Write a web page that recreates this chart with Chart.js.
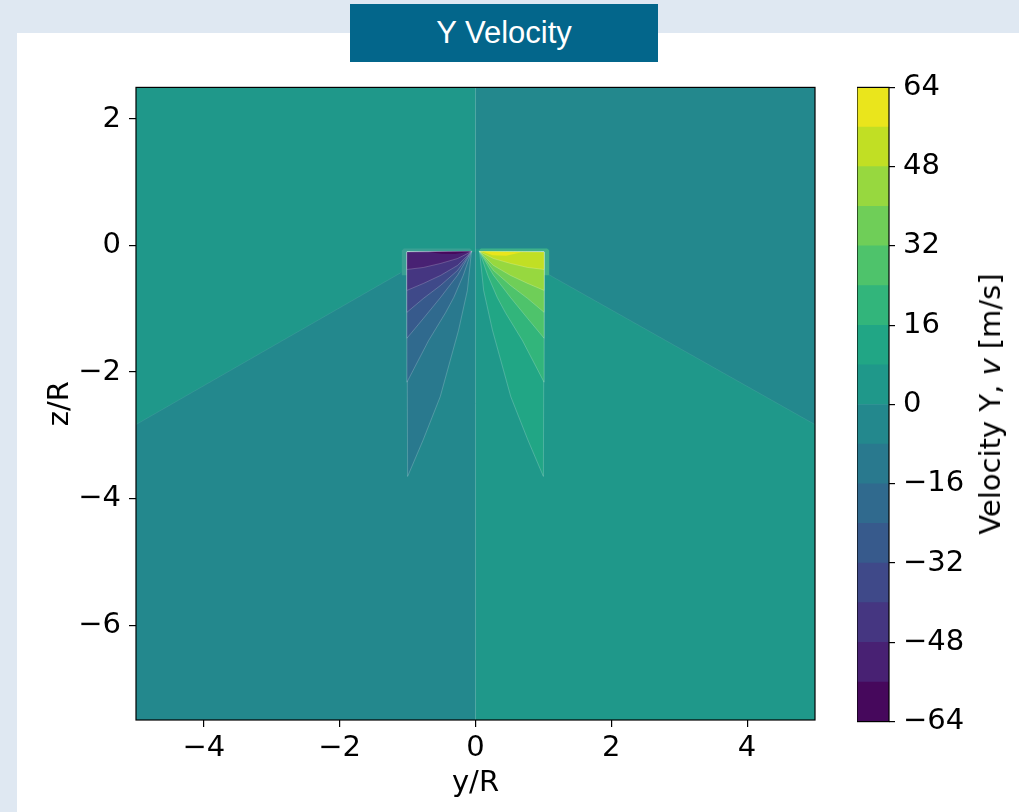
<!DOCTYPE html>
<html>
<head>
<meta charset="utf-8">
<script src="https://cdn.jsdelivr.net/npm/chart.js@4.4.1/dist/chart.umd.min.js"></script>
<style>
  body { margin: 0; width: 1019px; height: 812px; background: #dfe8f2; position: relative; overflow: hidden; font-family: 'DejaVu Sans', sans-serif; }
  #panel { position: absolute; left: 17px; top: 33px; right: 0; bottom: 0; background: #fff; }
  #title { position: absolute; left: 350px; top: 4px; width: 308px; height: 58px; background: #03668b; color: #fff;
           font: 31px 'Liberation Sans', Arial, sans-serif; text-align: center; line-height: 58px; }
  #main { position: absolute; left: 30px; top: 62px; }
  #cbar { position: absolute; left: 857px; top: 62px; }
  #cblabel { position: absolute; left: 990px; top: 404px; transform: translate(-50%, -50%) rotate(-90deg);
             white-space: nowrap; font: 29px 'DejaVu Sans', sans-serif; color: #000; }
</style>
</head>
<body>
<div id="panel"></div>
<div id="title">Y Velocity</div>
<canvas id="main" width="795" height="744"></canvas>
<canvas id="cbar" width="142" height="685"></canvas>
<div id="cblabel">Velocity Y, <i>v</i> [m/s]</div>
<script>
// axis ticks
const xTicks = [-4, -2, 0, 2, 4];
const yTicks = [-6, -4, -2, 0, 2];
const cbTicks = [-64, -48, -32, -16, 0, 16, 32, 48, 64];

// contour levels (m/s) and their viridis fills
const levels = [-64, -56, -48, -40, -32, -24, -16, -8, 0, 8, 16, 24, 32, 40, 48, 56, 64];
const levelColors = ['#46085c', '#482173', '#453681', '#3f4989', '#375a8c', '#306a8e', '#29798e', '#23888d',
                     '#1f988a', '#21a685', '#32b57b', '#4ec36b', '#6fce58', '#97d83f', '#c1df24', '#eae51c'];

// contour regions, [y/R, z/R] vertices
const fieldAll = [[-5, 2.5], [5, 2.5], [5, -7.5], [-5, -7.5]];
const upperRight = [[0, 2.5], [5, 2.5], [5, -2.83], [1.075, -0.457], [1.08, -0.05], [0, -0.05]];
const lowerLeft = [[-5, -2.83], [-1.1, -0.43], [-0.06, -0.1], [0, -0.1], [0, -7.5], [-5, -7.5]];
const haloLeft = [[-1.085, -0.47], [-1.085, -0.08], [-1.055, -0.045], [-0.08, -0.045], [-0.04, -0.085], [-0.06, -0.12], [-1.0, -0.47]];
const haloRight = [[1.085, -0.47], [1.085, -0.08], [1.055, -0.045], [0.08, -0.045], [0.04, -0.085], [0.06, -0.12], [1.0, -0.47]];

const left6 = [[-1.01, -0.1], [-0.06, -0.095], [-0.12, -0.71], [-0.25, -1.34], [-0.52, -2.39], [-0.77, -3.07], [-1.0, -3.65], [-1.01, -0.1]];
const left5 = [[-1.01, -0.1], [-0.06, -0.095], [-0.18, -0.47], [-0.32, -0.82], [-0.44, -1.06], [-0.69, -1.5], [-1.01, -2.16], [-1.01, -0.1]];
const left4 = [[-1.01, -0.1], [-0.06, -0.095], [-0.265, -0.47], [-0.515, -0.82], [-0.766, -1.15], [-1.01, -1.465], [-1.01, -0.1]];
const left3 = [[-1.01, -0.1], [-0.06, -0.095], [-0.265, -0.394], [-0.515, -0.63], [-0.766, -0.835], [-1.01, -1.055], [-1.01, -0.1]];
const left2 = [[-1.01, -0.1], [-0.06, -0.095], [-0.265, -0.315], [-0.515, -0.472], [-0.766, -0.598], [-1.01, -0.709], [-1.01, -0.1]];
const left1 = [[-1.01, -0.1], [-0.06, -0.095], [-0.265, -0.205], [-0.515, -0.283], [-0.766, -0.346], [-1.01, -0.378], [-1.01, -0.1]];
const left0 = [[-0.69, -0.1], [-0.06, -0.095], [-0.3, -0.135], [-0.5, -0.13], [-0.69, -0.1]];

const right9 = [[1.01, -0.1], [0.06, -0.095], [0.12, -0.71], [0.25, -1.34], [0.52, -2.39], [0.77, -3.07], [1.0, -3.65], [1.01, -0.1]];
const right10 = [[1.01, -0.1], [0.06, -0.095], [0.18, -0.47], [0.32, -0.82], [0.44, -1.06], [0.69, -1.5], [1.01, -2.16], [1.01, -0.1]];
const right11 = [[1.01, -0.1], [0.06, -0.095], [0.265, -0.47], [0.515, -0.82], [0.766, -1.15], [1.01, -1.465], [1.01, -0.1]];
const right12 = [[1.01, -0.1], [0.06, -0.095], [0.265, -0.394], [0.515, -0.63], [0.766, -0.835], [1.01, -1.055], [1.01, -0.1]];
const right13 = [[1.01, -0.1], [0.06, -0.095], [0.265, -0.315], [0.515, -0.472], [0.766, -0.598], [1.01, -0.709], [1.01, -0.1]];
const right14 = [[1.01, -0.1], [0.06, -0.095], [0.265, -0.205], [0.515, -0.283], [0.766, -0.346], [1.01, -0.378], [1.01, -0.1]];
const right15 = [[0.1, -0.095], [0.4, -0.1], [0.68, -0.105], [0.45, -0.16], [0.25, -0.155], [0.1, -0.095]];

// faint seams between the far-field regions
const seamCentre = [[0, 2.5], [0, -7.5]];
const seamLeft = [[-5, -2.83], [-1.1, -0.43]];
const seamRight = [[1.075, -0.457], [5, -2.83]];

const font = { family: "'DejaVu Sans', sans-serif", size: 29 };
const minus = v => String(v).replace('-', '\u2212');

function region(pts, color, seam) {
    return {
        data: pts.map(p => ({ x: p[0], y: p[1] })),
        showLine: true,
        fill: 'shape',
        backgroundColor: color,
        borderColor: seam ? 'rgba(255,255,255,0.2)' : 'transparent',
        borderWidth: seam ? 1 : 0,
        pointRadius: 0,
        tension: 0,
    };
}

function seam(pts) {
    return {
        data: pts.map(p => ({ x: p[0], y: p[1] })),
        showLine: true,
        fill: false,
        borderColor: 'rgba(255,255,255,0.08)',
        borderWidth: 1,
        pointRadius: 0,
    };
}

// bottom first, top last
const layers = [
    region(fieldAll, levelColors[8]),
    region(upperRight, levelColors[7]),
    region(lowerLeft, levelColors[7]),
    seam(seamCentre),
    seam(seamLeft),
    seam(seamRight),
    region(haloLeft, '#3a9f93'),
    region(haloRight, '#3fb08a'),
    region(left6, levelColors[6], true),
    region(left5, levelColors[5], true),
    region(left4, levelColors[4], true),
    region(left3, levelColors[3], true),
    region(left2, levelColors[2], true),
    region(left1, levelColors[1], true),
    region(left0, levelColors[0]),
    region(right9, levelColors[9], true),
    region(right10, levelColors[10], true),
    region(right11, levelColors[11], true),
    region(right12, levelColors[12], true),
    region(right13, levelColors[13], true),
    region(right14, levelColors[14], true),
    region(right15, levelColors[15]),
];
layers.forEach((d, i) => { d.order = layers.length - i; });

const frame = {
    id: 'frame',
    afterDraw(chart) {
        const { ctx, chartArea: a } = chart;
        ctx.save();
        ctx.strokeStyle = '#000';
        ctx.lineWidth = 1.2;
        ctx.strokeRect(a.left, a.top, a.right - a.left, a.bottom - a.top);
        ctx.restore();
    },
};

const tickGrid = len => ({ drawOnChartArea: false, drawTicks: true, tickLength: len, color: '#000', lineWidth: 1.2 });

new Chart(document.getElementById('main'), {
    type: 'scatter',
    data: { datasets: layers },
    options: {
        responsive: false,
        animation: false,
        events: [],
        layout: { padding: { top: 10, right: 10, bottom: 0, left: 0 } },
        plugins: { legend: { display: false }, tooltip: { enabled: false } },
        scales: {
            x: {
                type: 'linear', min: -5, max: 5,
                afterBuildTicks: axis => { axis.ticks = xTicks.map(v => ({ value: v })); },
                afterFit: axis => { axis.height = 86; },
                ticks: { color: '#000', font, padding: 4, callback: minus },
                grid: tickGrid(7),
                border: { display: false },
                title: { display: true, text: 'y/R', color: '#000', font, padding: 5 },
            },
            y: {
                type: 'linear', min: -7.5, max: 2.5,
                afterBuildTicks: axis => { axis.ticks = yTicks.map(v => ({ value: v })); },
                afterFit: axis => { axis.width = 106; },
                ticks: { color: '#000', font, padding: 8, callback: minus },
                grid: tickGrid(7),
                border: { display: false },
                title: { display: true, text: 'z/R', color: '#000', font, padding: 13 },
            },
        },
    },
    plugins: [frame],
});

new Chart(document.getElementById('cbar'), {
    type: 'bar',
    data: {
        labels: [''],
        datasets: levelColors.map((c, i) => ({
            data: [[levels[i], levels[i + 1]]],
            backgroundColor: c,
            borderWidth: 0,
            base: levels[0],
            grouped: false,
            barPercentage: 1,
            categoryPercentage: 1,
        })),
    },
    options: {
        responsive: false,
        animation: false,
        events: [],
        layout: { padding: { top: 10, bottom: 10, left: 0, right: 0 } },
        plugins: { legend: { display: false }, tooltip: { enabled: false } },
        scales: {
            x: { display: false },
            y: {
                position: 'right', min: -64, max: 64,
                afterBuildTicks: axis => { axis.ticks = cbTicks.map(v => ({ value: v })); },
                afterFit: axis => { axis.width = 110; },
                ticks: { color: '#000', font, padding: 8, callback: minus },
                grid: tickGrid(6),
                border: { display: false },
            },
        },
    },
    plugins: [frame],
});
</script>
</body>
</html>
